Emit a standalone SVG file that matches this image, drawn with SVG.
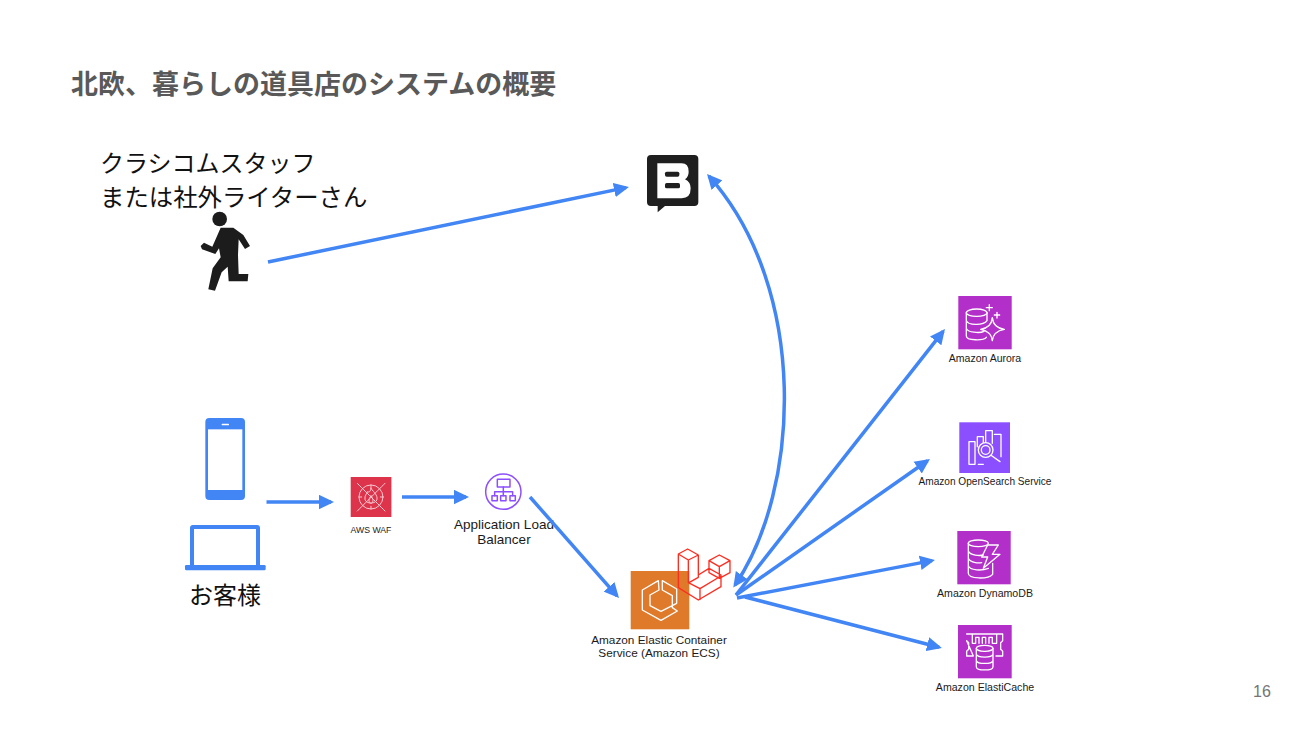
<svg xmlns="http://www.w3.org/2000/svg" width="1300" height="731" viewBox="0 0 1300 731">
<style>
.cjk{font-family:"Noto Sans CJK JP","Liberation Sans",sans-serif;fill:#111}
.lab{font-family:"Liberation Sans",Arial,sans-serif;fill:#1a1a1a;text-anchor:middle}
.ic{fill:none;stroke:#fff;stroke-width:4;stroke-linejoin:round;stroke-linecap:round}
.lv{fill:none;stroke:#ff2d20;stroke-width:4;stroke-linejoin:round}
.c{fill:none;stroke:#4285f4;stroke-width:3.500;marker-end:url(#a)}
.b{fill:#4285f4}
</style>
<defs>
<marker id="a" markerUnits="userSpaceOnUse" markerWidth="15" markerHeight="15" refX="12" refY="7.500" orient="auto-start-reverse"><path d="M0 0.300L15 7.500L0 14.700Z" fill="#4285f4"/></marker>
</defs>
<rect width="1300" height="731" fill="#fff"/>
<text id="title" x="71" y="94" font-size="27" font-weight="700" style="font-family:'Noto Sans CJK JP','Liberation Sans',sans-serif;fill:#595959">北欧、暮らしの道具店のシステムの概要</text>
<g id="staff">
<text class="cjk" x="100" y="172" font-size="24">クラシコムスタッフ</text>
<text class="cjk" x="100" y="206" font-size="24.400">または社外ライターさん</text>
<g transform="translate(180 140) scale(.3333)" fill="#1c1c1c">
<circle cx="119" cy="237" r="22"/>
<path d="M122 263H160L190 285L210 318L195 327L176 298L174 345L176 402H205L203 424H146L143 380L125 397L105 452L85 448L98 385L122 352L117 325L106 342L66 328L62 318L72 308L97 320Z"/>
</g>
</g>
<g id="base">
<g transform="translate(620 140) scale(.3333)">
<path d="M93 45H223Q235 45 235 57V186Q235 198 223 198H135L113 217V198H93Q81 198 81 186V57Q81 45 93 45Z" fill="#1f1f1f"/>
<path d="M112 70H185Q206 70 206 95Q206 110 195 118Q212 126 212 145Q212 175 185 175H112Z" fill="#fff"/>
<rect x="135" y="95" width="43" height="15" rx="5" fill="#1f1f1f"/>
<rect x="135" y="129" width="45" height="16" rx="5" fill="#1f1f1f"/>
</g>
</g>
<g id="customer">
<g transform="translate(170 410) scale(.3333)">
<rect class="b" x="106" y="24" width="119" height="246" rx="12"/>
<rect x="114" y="58" width="103" height="182" fill="#fff"/>
<rect x="155" y="41" width="22" height="5" rx="2" fill="#fff"/>
<rect x="66" y="351" width="198" height="120" rx="3" fill="none" stroke="#4285f4" stroke-width="12"/>
<rect class="b" x="45" y="465" width="242" height="16" rx="4"/>
</g>
<text class="cjk" x="189" y="604" font-size="24">お客様</text>
</g>
<g id="waf">
<rect x="350.700" y="477" width="40.700" height="40" fill="#dd344c"/>
<g transform="translate(170 410) scale(.3333)" class="ic" style="stroke:#f7c9d0;stroke-width:3">
<circle cx="603" cy="261" r="36"/>
<path d="M562 220L645 303M645 220L562 303M603 225V233M567 261H575M631 261H639M603 289V297"/>
<path d="M603 235C612 248 623 255 621 268C619 282 588 284 585 268C583 255 592 252 592 245C597 248 602 245 603 235ZM603 258C612 268 610 278 603 280C596 278 594 268 603 258Z"/>
</g>
<text class="lab" x="371" y="533" font-size="8.700">AWS WAF</text>
</g>
<g id="alb">
<g transform="translate(340 465) scale(.3333)" class="ic" style="stroke:#8c4fff;stroke-width:4.500">
<circle cx="490" cy="80" r="53"/>
<rect x="472" y="43" width="38" height="23"/>
<rect x="456" y="92" width="16" height="15"/>
<rect x="482" y="92" width="16" height="15"/>
<rect x="510" y="92" width="16" height="15"/>
<path d="M490 66V92M464 92V80H518V92"/>
</g>
<text class="lab" x="504" y="529" font-size="13.500">Application Load</text>
<text class="lab" x="504" y="544" font-size="13.500">Balancer</text>
</g>
<g id="ecs">
<rect x="630.700" y="571" width="58.600" height="58.300" fill="#df7a2b"/>
<g transform="translate(585 540) scale(.3333)" class="ic">
<path d="M220 122L172 150V210L228 241L277 213L262 203V167L232 150V122L275 147V190L228 214L195 197V165L222 150Z"/>
</g>
<g transform="translate(585 540) scale(.3333)" class="lv">
<path d="M280 42L308 27L340 45L310 60ZM280 42V143L340 180L408 140V105L372 85M310 60V128L345 146L408 108M340 45V112L312 128M345 146V180M372 85L340 105M372 62L403 45L435 62V98L403 115L372 98ZM372 62L403 80L435 62M403 80V115M372 98V85"/>
</g>
<text class="lab" x="659" y="644" font-size="11.800">Amazon Elastic Container</text>
<text class="lab" x="659" y="657" font-size="11.800">Service (Amazon ECS)</text>
</g>
<g id="aurora">
<rect x="958.300" y="296" width="53.400" height="53.300" fill="#b32fc9"/>
<g transform="translate(915 290) scale(.3333)" class="ic">
<ellipse cx="185" cy="68" rx="31" ry="11"/>
<path d="M154 68V138C154 152 205 153 214 142M154 92C158 106 205 108 216 92M154 115C158 128 195 130 207 124M216 68V92"/>
<path d="M232 83C234 105 245 115 268 118C245 122 234 132 232 152C230 132 218 122 197 118C218 115 230 105 232 83Z"/>
<path d="M223 44V62M214 53H232M246 67V84M238 75H254"/>
</g>
<text class="lab" x="985" y="362" font-size="10.500">Amazon Aurora</text>
</g>
<g id="opensearch">
<rect x="959.300" y="422.300" width="50.700" height="50.700" fill="#8c4fff"/>
<g transform="translate(915 415) scale(.3333)" class="ic">
<path d="M162 80H180V148H162ZM187 95V65H205V82M212 82V47H232V85M238 58H258V125M190 148H205"/>
<circle cx="212" cy="105" r="22"/>
<circle cx="212" cy="105" r="13"/>
<path d="M228 121L255 140"/>
</g>
<text class="lab" x="985" y="485" font-size="10.100">Amazon OpenSearch Service</text>
</g>
<g id="dynamodb">
<rect x="957.300" y="531" width="53.400" height="53.300" fill="#b32fc9"/>
<g transform="translate(915 525) scale(.3333)" class="ic">
<ellipse cx="190" cy="55" rx="30" ry="10"/>
<path d="M160 55V145C160 163 220 163 233 148V115M160 78C165 92 195 93 205 90M160 100C165 113 190 115 200 113M160 122C165 137 200 138 220 130"/>
<path d="M218 60H250L232 88H255L205 130L218 96H200Z"/>
</g>
<text class="lab" x="985" y="597" font-size="10.600">Amazon DynamoDB</text>
</g>
<g id="elasticache">
<rect x="958" y="625" width="53.700" height="53.300" fill="#b32fc9"/>
<g transform="translate(915 620) scale(.3333)" class="ic">
<ellipse cx="209" cy="85" rx="25" ry="9"/>
<path d="M184 85V140C184 153 234 153 234 140V85M184 103C188 114 230 114 234 103M184 122C188 133 230 133 234 122"/>
<path d="M155 42H263V62L257 68V88L263 94V108H243M175 108H155V94L161 88V68L155 62ZM172 42V70H182V52H192V70M202 70V52H212V70M222 70V52H232V70H245V42"/>
</g>
<text class="lab" x="985" y="691" font-size="10.600">Amazon ElastiCache</text>
</g>
<g id="connectors">
<path class="c" d="M268 262L626 187.600"/>
<path class="c" d="M266.500 502H331"/>
<path class="c" d="M402 497H466"/>
<path class="c" d="M530 497L617 595.800"/>
<path class="c" style="marker-start:url(#a)" d="M735 585C800 490 810 290 709 176.200"/>
<path class="c" d="M736 595L943.100 331.400"/>
<path class="c" d="M736 595L927.500 460.700"/>
<path class="c" d="M737 598L932 560.600"/>
<path class="c" d="M745 597L939 647.200"/>
</g>
<text id="page" x="1253" y="697" font-size="16" style="font-family:'Liberation Sans',sans-serif;fill:#757575">16</text>
</svg>
